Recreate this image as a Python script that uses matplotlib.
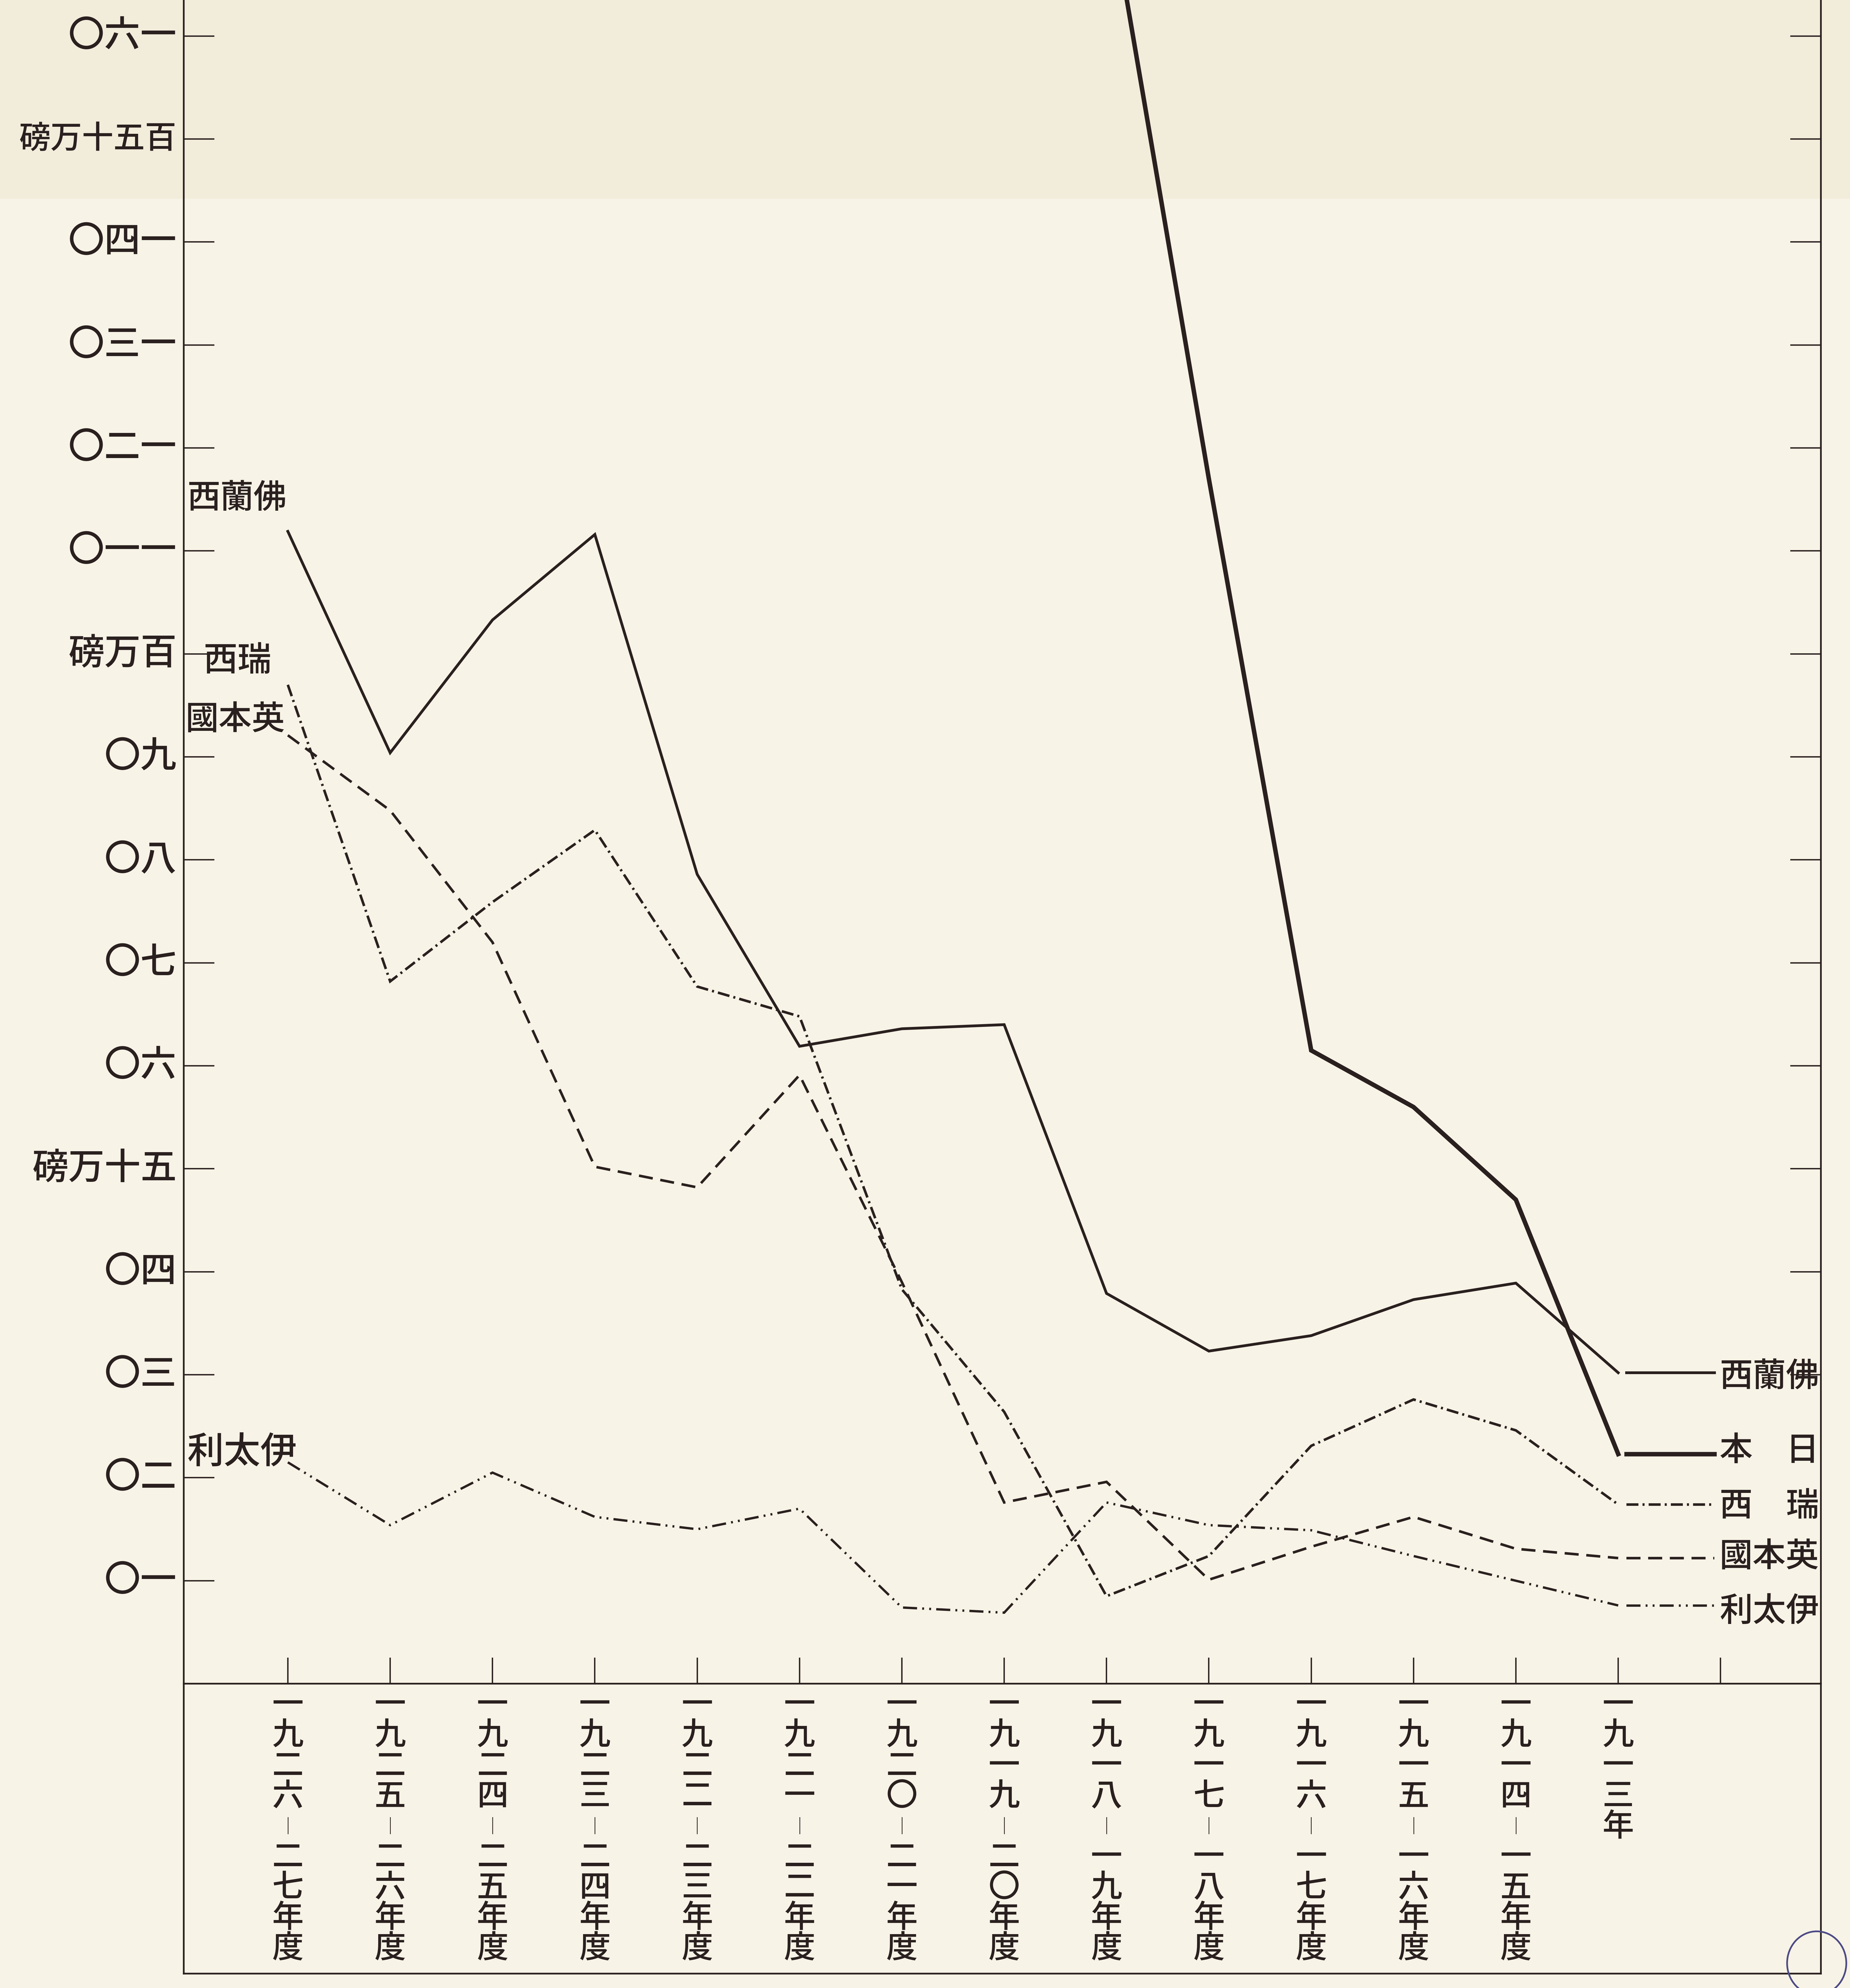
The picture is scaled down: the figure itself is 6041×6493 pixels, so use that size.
import numpy as np
import matplotlib
matplotlib.use("Agg")
import matplotlib.pyplot as plt
from matplotlib import transforms
from matplotlib.patches import Rectangle, Circle

plt.rcParams['font.family'] = ['Noto Sans CJK JP', 'DejaVu Sans']

# ---------------- data (unit: 10,000 pounds) ----------------
years = ['一九二六｜二七年度', '一九二五｜二六年度', '一九二四｜二五年度', '一九二三｜二四年度',
         '一九二二｜二三年度', '一九二一｜二二年度', '一九二〇｜二一年度', '一九一九｜二〇年度',
         '一九一八｜一九年度', '一九一七｜一八年度', '一九一六｜一七年度', '一九一五｜一六年度',
         '一九一四｜一五年度', '一九一三年']

y_ticks = [10, 20, 30, 40, 50, 60, 70, 80, 90, 100, 110, 120, 130, 140, 150, 160]
y_labels = ['〇一', '〇二', '〇三', '〇四', '磅万十五', '〇六', '〇七', '〇八', '〇九', '磅万百',
            '〇一一', '〇二一', '〇三一', '〇四一', '磅万十五百', '〇六一']

france = [111.9, 90.4, 103.3, 111.6, 78.6, 61.9, 63.6, 64.0, 37.9, 32.3, 33.8, 37.3, 38.9, 30.2]
japan = [np.nan, np.nan, np.nan, np.nan, np.nan, np.nan, np.nan, np.nan, 175.0, 117.0, 61.5, 56.0, 47.0, 22.3]
switzerland = [97.0, 68.2, 75.9, 82.9, 67.7, 64.8, 38.3, 26.4, 8.5, 12.4, 23.1, 27.6, 24.6, 17.4]
britain = [92.1, 84.8, 72.0, 50.2, 48.2, 59.1, 39.0, 17.6, 19.6, 10.1, 13.3, 16.2, 13.1, 12.2]
italy = [21.5, 15.4, 20.5, 16.2, 15.0, 17.0, 7.4, 6.9, 17.6, 15.4, 14.9, 12.4, 10.0, 7.6]

left_names = ['西蘭佛', '西瑞', '國本英', '利太伊']
right_names = ['西蘭佛', '本　日', '西　瑞', '國本英', '利太伊']

# ---------------- style ----------------
paper = '#f7f3e6'
ink = '#2a201f'
FW = 'medium'
W, H, DPI = 6041, 6493, 100

fig = plt.figure(figsize=(W / DPI, H / DPI), dpi=DPI)
fig.patch.set_facecolor(paper)
fig.add_artist(Rectangle((0, 0.9), 1, 0.1, transform=fig.transFigure,
                         facecolor='#f2ecdb', edgecolor='none', zorder=-5))

L, R = 145 / 1459, 1436 / 1459
B = 1 - 1328 / 1568
ax = fig.add_axes([L, B, R - L, 1 - B])
ax.set_facecolor('none')
ax.set_xlim(-1.016, 14.98)
ax.set_ylim(0, 163.5)

x = np.arange(len(years))

styles = {
    'france': dict(color=ink, lw=6.5, ls='-'),
    'japan': dict(color=ink, lw=10.5, ls='-'),
    'switzerland': dict(color=ink, lw=6.0, ls=(0, (4.7, 1.6, 0.8, 1.6))),
    'britain': dict(color=ink, lw=6.0, ls=(0, (5.5, 3.0))),
    'italy': dict(color=ink, lw=5.5, ls=(0, (6.0, 2.2, 0.8, 2.2, 0.8, 2.2))),
}
series = [('france', france), ('japan', japan), ('switzerland', switzerland),
          ('britain', britain), ('italy', italy)]
for name, vals in series:
    ax.plot(x, vals, solid_joinstyle='miter', dash_joinstyle='miter', **styles[name])

# legend samples on the right, continuing at the last value of each series
for (name, vals), lab in zip(series, right_names):
    ax.plot([13.08, 13.94], [vals[-1], vals[-1]], clip_on=False, **styles[name])

legend_y = [29.8, 22.6, 17.2, 12.3, 7.0]
for lab, yv in zip(right_names, legend_y):
    ax.text(13.99, yv, lab, ha='left', va='center', fontsize=78, color=ink, fontweight=FW)

# labels near the start of lines
tr_in = transforms.blended_transform_factory(ax.transAxes, ax.transData)
ax.text(0.002, 115.1, left_names[0], transform=tr_in, ha='left', va='center', fontsize=78, color=ink, fontweight=FW)
ax.text(0.012, 99.3, left_names[1], transform=tr_in, ha='left', va='center', fontsize=80, color=ink, fontweight=FW)
ax.text(0.001, 93.6, left_names[2], transform=tr_in, ha='left', va='center', fontsize=78, color=ink, fontweight=FW)
ax.text(0.002, 22.4, left_names[3], transform=tr_in, ha='left', va='center', fontsize=86, color=ink, fontweight=FW)

# spines and ticks
for s in ['top', 'right']:
    ax.spines[s].set_visible(False)
for s in ['left', 'bottom']:
    ax.spines[s].set_linewidth(4.0)
    ax.spines[s].set_color(ink)

ax.set_yticks(y_ticks)
ax.tick_params(axis='y', direction='in', length=72, width=3.2, color=ink, labelleft=False)
ax.set_xticks(np.arange(15))
ax.tick_params(axis='x', direction='in', length=61, width=3.2, color=ink, labelbottom=False)

ax2 = ax.twinx()
ax2.set_ylim(ax.get_ylim())
ax2.set_yticks([t for t in y_ticks if t >= 30])
ax2.tick_params(axis='y', direction='in', length=72, width=3.2, color=ink, labelright=False)
for s in ['top', 'left', 'bottom']:
    ax2.spines[s].set_visible(False)
ax2.spines['right'].set_linewidth(4.0)
ax2.spines['right'].set_color(ink)

# y-axis labels on the left
tr_y = transforms.blended_transform_factory(fig.transFigure, ax.transData)
for v, lab in zip(y_ticks, y_labels):
    fs = 74 if len(lab) >= 5 else 85
    fig.text(0.0955, v, lab, transform=tr_y, ha='right', va='center', fontsize=fs, color=ink, fontweight=FW)

# lower box for the period labels
axb = fig.add_axes([L, 0.0072, R - L, B - 0.0072])
axb.set_facecolor('none')
axb.set_xticks([])
axb.set_yticks([])
axb.spines['top'].set_visible(False)
for s in ['left', 'right', 'bottom']:
    axb.spines[s].set_linewidth(4.0)
    axb.spines[s].set_color(ink)

tr_x = transforms.blended_transform_factory(ax.transData, fig.transFigure)
for i, lab in enumerate(years):
    for k, ch in enumerate(lab):
        yy = 1 - (1345 + 24 * k) / 1568
        fs = 40 if ch == '｜' else 74
        fig.text(i, yy, ch, transform=tr_x, ha='center', va='center', fontsize=fs, color=ink, fontweight=FW)

# library stamp at bottom right corner
fig.add_artist(Circle((0.982, 0.0125), 0.016, transform=fig.transFigure,
                      facecolor='none', edgecolor='#4d4a86', lw=4, zorder=5))

fig.savefig('out.png', dpi=DPI, facecolor=paper)
